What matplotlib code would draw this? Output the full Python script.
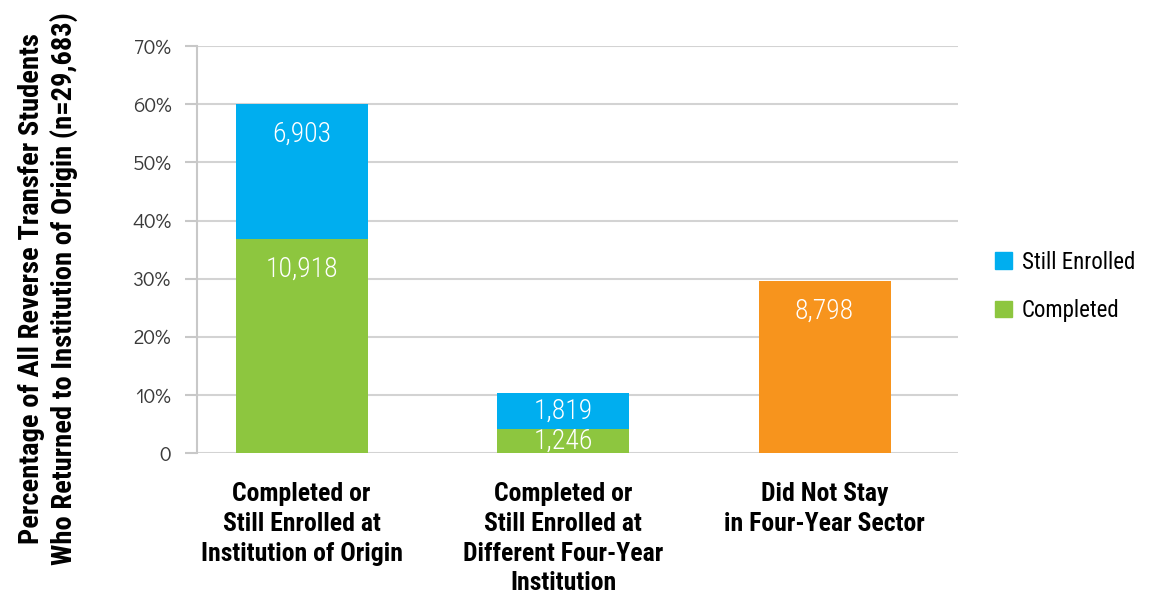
import matplotlib
matplotlib.use("Agg")
import matplotlib.pyplot as plt
from matplotlib.patches import Patch
import numpy as np

plt.rcParams["font.family"] = ["Roboto Condensed", "DejaVu Sans"]

# 数据
n_total = 29683
categories = [
    "Completed or\nStill Enrolled at\nInstitution of Origin",
    "Completed or\nStill Enrolled at\nDifferent Four-Year\nInstitution",
    "Did Not Stay\nin Four-Year Sector",
]
completed = [10918, 1246, 0]
still_enrolled = [6903, 1819, 0]
did_not_stay = [0, 0, 8798]
y_ticks = [0, 10, 20, 30, 40, 50, 60, 70]
y_ticklabels = ["0", "10%", "20%", "30%", "40%", "50%", "60%", "70%"]

c_blue = "#00AEEF"
c_green = "#8DC63F"
c_orange = "#F7941D"

comp_pct = np.array(completed) / n_total * 100
still_pct = np.array(still_enrolled) / n_total * 100
dns_pct = np.array(did_not_stay) / n_total * 100

fig = plt.figure(figsize=(11.67, 5.93), dpi=100)
ax = fig.add_axes([0.1688, 0.236, 0.652, 0.686])

x = np.arange(len(categories))
w = 0.505
ax.bar(x[:2], comp_pct[:2], w, color=c_green, zorder=3)
ax.bar(x[:2], still_pct[:2], w, bottom=comp_pct[:2], color=c_blue, zorder=3)
ax.bar(x[2:], dns_pct[2:], w, color=c_orange, zorder=3)


def seg_label(xc, bottom, height, val):
    # 高的段落：标签贴近顶部；矮的段落：居中
    y = bottom + height - 5.2 if height > 11 else bottom + height / 2
    ax.text(xc, y, f"{val:,}", ha="center", va="center", color="white",
            fontsize=20, fontweight="light", zorder=4)


for i in range(2):
    seg_label(x[i], 0, comp_pct[i], completed[i])
    seg_label(x[i], comp_pct[i], still_pct[i], still_enrolled[i])
seg_label(x[2], 0, dns_pct[2], did_not_stay[2])

ax.set_ylim(0, 70)
ax.set_xlim(-0.40, 2.51)
ax.set_yticks(y_ticks)
ax.set_yticklabels(y_ticklabels, family=["Didact Gothic", "DejaVu Sans"], fontsize=15, color="#3a3a3a")
ax.yaxis.grid(True, color="#d3d3d3", lw=1.5, zorder=0)
ax.tick_params(axis="y", length=8.5, width=1.5, color="#c8c8c8", pad=10)
ax.tick_params(axis="x", length=0, pad=21)
ax.set_xticks(x)
ax.set_xticklabels(categories, fontsize=18.5, fontweight="bold", linespacing=1.3, va="top")
for s in ["top", "right", "bottom"]:
    ax.spines[s].set_visible(False)
ax.spines["left"].set_color("#c8c8c8")
ax.spines["left"].set_linewidth(1.5)

ax.set_ylabel("Percentage of All Reverse Transfer Students\nWho Returned to Institution of Origin (n=29,683)",
              fontsize=20.5, fontweight="bold", linespacing=1.2)
ax.yaxis.set_label_coords(-0.157, 0.405)

handles = [Patch(color=c_blue, label="Still Enrolled"), Patch(color=c_green, label="Completed")]
fig.legend(handles=handles, loc="center left", bbox_to_anchor=(0.845, 0.517), frameon=False,
           fontsize=16.5, handlelength=0.75, handleheight=0.75, handletextpad=0.4, labelspacing=1.1,
           borderaxespad=0)

fig.savefig("out.png", dpi=100)
